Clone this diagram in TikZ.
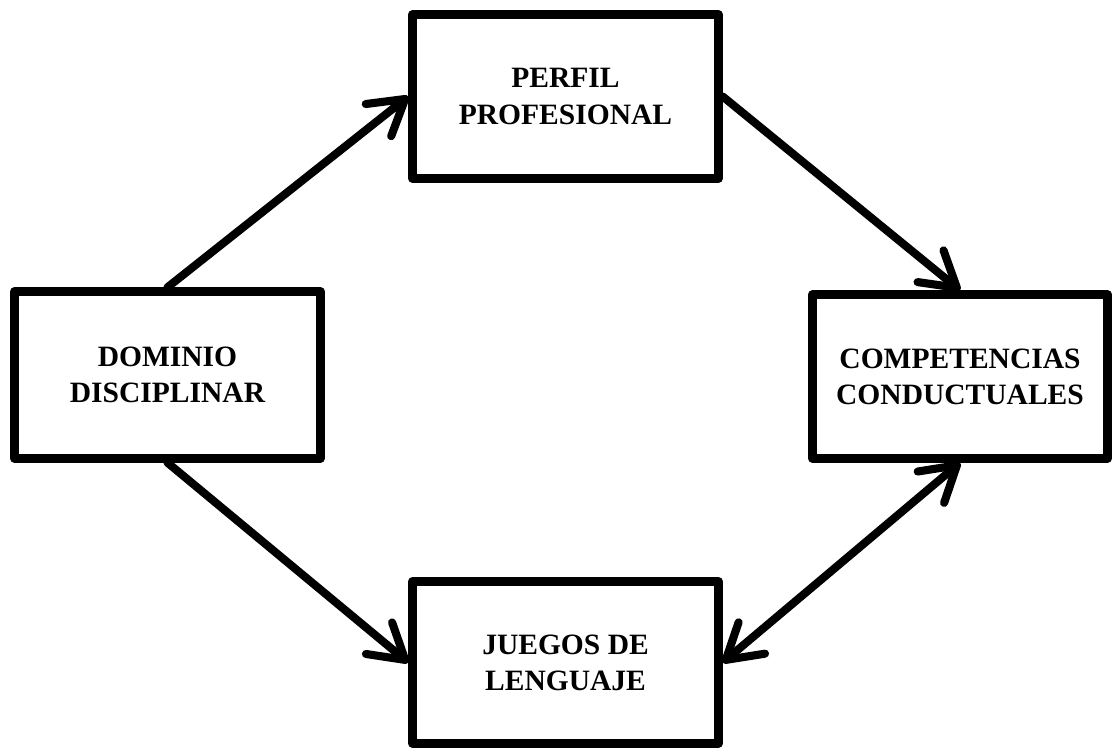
\documentclass[tikz,border=0pt]{standalone}
\usepackage{fontspec}
\setmainfont{Liberation Serif}
\usetikzlibrary{arrows.meta, positioning}

\tikzset{
	caja/.style={draw=black, line width=4.8pt, line join=round, minimum width=6.12cm, minimum height=3.28cm, align=center, font=\fontsize{16.8}{20.5}\selectfont\bfseries},
	flecha/.style={line width=4.6pt, line cap=round, -{Straight Barb[length=0.68cm, width=0.82cm, round]}},
	dobleflecha/.style={flecha, {Straight Barb[length=0.68cm, width=0.82cm, round]}-{Straight Barb[length=0.68cm, width=0.82cm, round]}}
}

\begin{document}
\begin{tikzpicture}
				\useasboundingbox (0,0) rectangle (22.28,15.02);
				\node[caja] (perfil) at (11.31,13.09) {PERFIL\\PROFESIONAL};
				\node[caja, minimum height=3.34cm] (dominio) at (3.35,7.52) {DOMINIO\\DISCIPLINAR};
				\node[caja, minimum width=5.9cm] (competencias) at (19.2,7.49) {COMPETENCIAS\\CONDUCTUALES};
				\node[caja, minimum height=3.24cm] (juegos) at (11.31,1.77) {JUEGOS DE\\LENGUAJE};
				\draw[flecha] (dominio.north) -- (perfil.west);
				\draw[flecha] (perfil.east) -- (competencias.north);
				\draw[flecha] (dominio.south) -- (juegos.west);
				\draw[dobleflecha] (competencias.south) -- (juegos.east);
			\end{tikzpicture}
\end{document}
